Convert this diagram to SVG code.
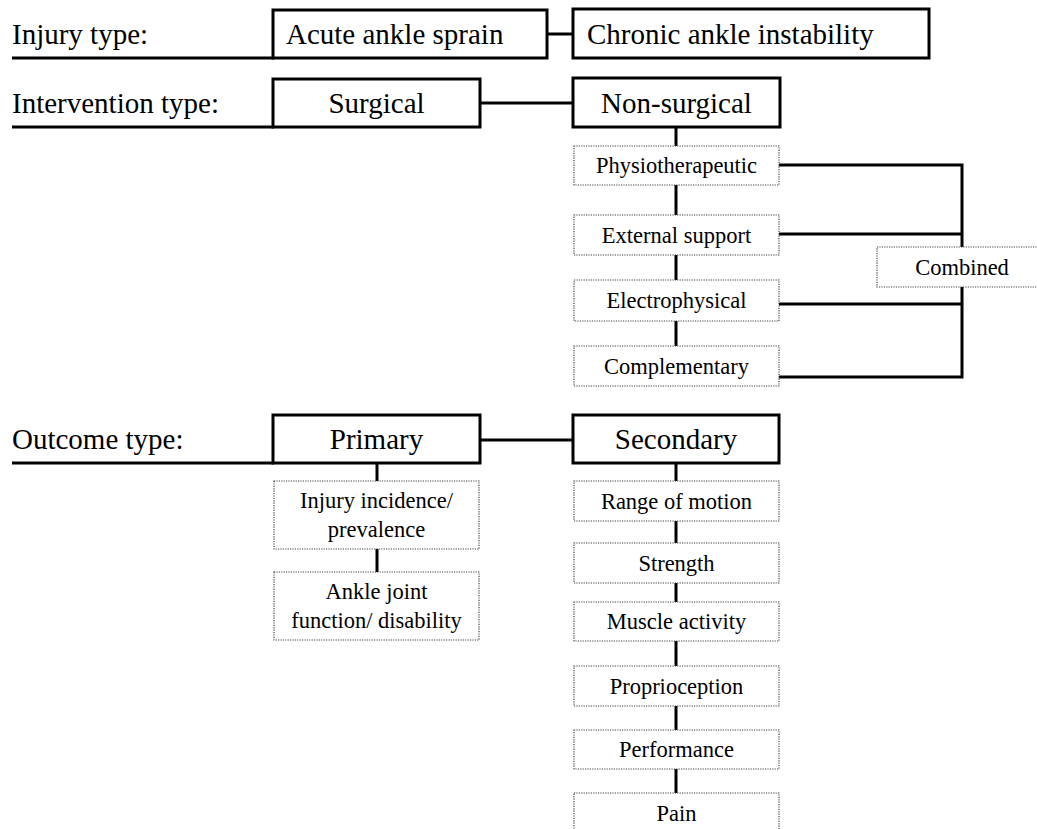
<svg xmlns="http://www.w3.org/2000/svg" width="1037" height="829" viewBox="0 0 1037 829">
<style>
.bg{fill:#fff}
.main rect{fill:#fff;stroke:#000;stroke-width:3}
.sub rect{fill:#fff;stroke:#444;stroke-width:1.2;stroke-dasharray:1.2 1.2}
.conn line,.conn polyline{stroke:#000;stroke-width:3;fill:none}
text{font-family:"Liberation Serif","Times New Roman",serif;fill:#000}
.big{font-size:29px}
.small{font-size:22.5px}
.c{text-anchor:middle}
</style>
<rect class="bg" x="0" y="0" width="1037" height="829"/>
<g id="connectors" class="conn">
  <line x1="12" y1="58" x2="274" y2="58"/>
  <line x1="12" y1="127" x2="274" y2="127"/>
  <line x1="12" y1="463" x2="274" y2="463"/>
  <line x1="547" y1="34" x2="573" y2="34"/>
  <line x1="480" y1="103" x2="573" y2="103"/>
  <line x1="480" y1="440" x2="573" y2="440"/>
  <line x1="676" y1="127" x2="676" y2="146"/>
  <line x1="676" y1="185" x2="676" y2="215"/>
  <line x1="676" y1="255" x2="676" y2="280"/>
  <line x1="676" y1="321" x2="676" y2="346"/>
  <polyline points="779,165 962,165 962,377 779,377"/>
  <line x1="779" y1="234" x2="962" y2="234"/>
  <line x1="779" y1="304" x2="962" y2="304"/>
  <line x1="377" y1="463" x2="377" y2="481"/>
  <line x1="377" y1="549" x2="377" y2="572"/>
  <line x1="676" y1="463" x2="676" y2="481"/>
  <line x1="676" y1="521" x2="676" y2="543"/>
  <line x1="676" y1="583" x2="676" y2="602"/>
  <line x1="676" y1="641" x2="676" y2="666"/>
  <line x1="676" y1="706" x2="676" y2="730"/>
  <line x1="676" y1="769" x2="676" y2="793"/>
</g>
<g id="label-injury"><text class="big" x="12" y="44">Injury type:</text></g>
<g id="label-intervention"><text class="big" x="12" y="113">Intervention type:</text></g>
<g id="label-outcome"><text class="big" x="12" y="449">Outcome type:</text></g>
<g id="acute" class="main"><rect x="273" y="10" width="274" height="48"/><text class="big" x="286" y="44">Acute ankle sprain</text></g>
<g id="chronic" class="main"><rect x="573" y="9" width="356" height="49"/><text class="big" x="587" y="44">Chronic ankle instability</text></g>
<g id="surgical" class="main"><rect x="273" y="79" width="207" height="48"/><text class="big c" x="376.5" y="113">Surgical</text></g>
<g id="nonsurgical" class="main"><rect x="573" y="78" width="207" height="49"/><text class="big c" x="676.5" y="113">Non-surgical</text></g>
<g id="physio" class="sub"><rect x="574" y="146" width="205" height="39"/><text class="small c" x="676.5" y="173">Physiotherapeutic</text></g>
<g id="external" class="sub"><rect x="574" y="215" width="205" height="40"/><text class="small c" x="676.5" y="243">External support</text></g>
<g id="electro" class="sub"><rect x="574" y="280" width="205" height="41"/><text class="small c" x="676.5" y="308">Electrophysical</text></g>
<g id="complementary" class="sub"><rect x="574" y="346" width="205" height="40"/><text class="small c" x="676.5" y="374">Complementary</text></g>
<g id="combined" class="sub"><rect x="877" y="247" width="170" height="40"/><text class="small c" x="962" y="275">Combined</text></g>
<g id="primary" class="main"><rect x="273" y="415" width="207" height="48"/><text class="big c" x="376.5" y="449">Primary</text></g>
<g id="secondary" class="main"><rect x="573" y="415" width="206" height="48"/><text class="big c" x="676" y="449">Secondary</text></g>
<g id="incidence" class="sub"><rect x="274" y="481" width="205" height="68"/><text class="small c" x="376.5" y="508">Injury incidence/</text><text class="small c" x="376.5" y="537">prevalence</text></g>
<g id="ankle" class="sub"><rect x="274" y="572" width="205" height="68"/><text class="small c" x="376.5" y="599">Ankle joint</text><text class="small c" x="376.5" y="628">function/ disability</text></g>
<g id="rom" class="sub"><rect x="574" y="481" width="205" height="40"/><text class="small c" x="676.5" y="509">Range of motion</text></g>
<g id="strength" class="sub"><rect x="574" y="543" width="205" height="40"/><text class="small c" x="676.5" y="571">Strength</text></g>
<g id="muscle" class="sub"><rect x="574" y="602" width="205" height="39"/><text class="small c" x="676.5" y="629">Muscle activity</text></g>
<g id="proprio" class="sub"><rect x="574" y="666" width="205" height="40"/><text class="small c" x="676.5" y="694">Proprioception</text></g>
<g id="performance" class="sub"><rect x="574" y="730" width="205" height="39"/><text class="small c" x="676.5" y="757">Performance</text></g>
<g id="pain" class="sub"><rect x="574" y="793" width="205" height="60"/><text class="small c" x="676.5" y="821">Pain</text></g>
</svg>
